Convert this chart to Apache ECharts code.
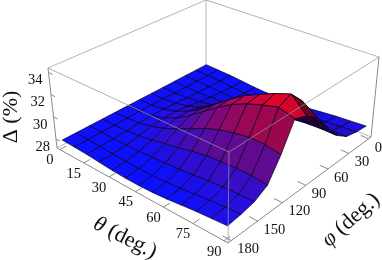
<!DOCTYPE html>
<html><head><meta charset="utf-8">
<style>html,body{margin:0;padding:0;background:#fff}#c{width:382px;height:260px}</style>
<script src="https://cdn.jsdelivr.net/npm/echarts@6/dist/echarts.min.js"></script>
</head><body><div id="c"></div>
<script>
const thetaGrid=[0,7.5,15,22.5,30,37.5,45,52.5,60,67.5,75,82.5,90];
const phiGrid=[0,15,30,45,60,75,90,105,120,135,150,165,180];
const delta=[
[27.9,27.9,27.9,27.9,27.9,27.9,27.9,27.9,27.9,27.9,27.9,27.9,27.9],
[27.85,27.85,27.85,27.86,27.88,27.9,27.92,27.92,27.9,27.88,27.86,27.85,27.85],
[27.8,27.8,27.82,27.86,27.92,28.0,28.05,28.05,28.0,27.92,27.85,27.81,27.8],
[27.7,27.72,27.78,27.9,28.06,28.25,28.38,28.38,28.25,28.05,27.86,27.74,27.7],
[27.6,27.63,27.74,27.98,28.32,28.68,28.92,28.92,28.62,28.22,27.88,27.68,27.6],
[27.55,27.6,27.76,28.12,28.7,29.3,29.7,29.68,29.14,28.48,27.95,27.65,27.55],
[27.55,27.62,27.82,28.35,29.2,30.1,30.65,30.6,29.72,28.72,28.05,27.68,27.55],
[27.6,27.68,27.94,28.6,29.7,30.9,31.6,31.5,30.3,28.98,28.12,27.75,27.6],
[27.7,27.8,28.1,28.85,30.15,31.6,32.45,32.3,30.75,29.2,28.25,27.85,27.7],
[27.85,27.96,28.28,29.1,30.55,32.2,33.1,32.9,31.05,29.3,28.4,28.0,27.85],
[28,28.12,28.42,29.25,30.85,32.7,33.7,33.35,31.25,29.35,28.5,28.15,28],
[28.1,28.22,28.5,29.3,31.0,33.0,34.2,33.7,31.25,29.35,28.55,28.25,28.1],
[28.2,28.31,28.55,29.28,30.6,32.1,32.9,33.3,31.0,29.2,28.6,28.35,28.2]
];
const thetaTicks=[0,15,30,45,60,75,90];
const phiTicks=[0,30,60,90,120,150,180];
const deltaTicks=[28,30,32,34];

// Box of the 3D view: back, right, front, left corners
const floorQuad=[[206,69],[371,137],[228,243],[57,148]];
const topQuad=[[206,0],[379,57],[229,152],[48,68]];
const thetaRange=[-1.8,91.8], phiRange=[-3.6,183.6], zRange=[27.2,34.4];

function homography(q){
  const [[x0,y0],[x1,y1],[x2,y2],[x3,y3]]=q;
  const dx1=x1-x2,dx2=x3-x2,sx=x0-x1+x2-x3,dy1=y1-y2,dy2=y3-y2,sy=y0-y1+y2-y3;
  const den=dx1*dy2-dx2*dy1;
  const g=(sx*dy2-dx2*sy)/den,h=(dx1*sy-sx*dy1)/den;
  const a=x1-x0+g*x1,b=x3-x0+h*x3,d=y1-y0+g*y1,e=y3-y0+h*y3;
  return (u,v)=>{const w=g*u+h*v+1;return [(a*u+b*v+x0)/w,(d*u+e*v+y0)/w];};
}
const floorH=homography(floorQuad),topH=homography(topQuad);
function proj(t,p,z){
  const u=(t-thetaRange[0])/(thetaRange[1]-thetaRange[0]);
  const v=(p-phiRange[0])/(phiRange[1]-phiRange[0]);
  const w=(z-zRange[0])/(zRange[1]-zRange[0]);
  const f=floorH(u,v),o=topH(u,v);
  return [f[0]+(o[0]-f[0])*w,f[1]+(o[1]-f[1])*w];
}
const zLo=27.8,zHi=33.9;
function cellColor(i,j){
  const a=delta[i][j],b=delta[i][j+1],c=delta[i+1][j+1],d=delta[i+1][j];
  const z=(a+b+c+d)/4;
  const t=Math.pow(Math.max(0,Math.min(1,(z-zLo)/(zHi-zLo))),0.92);
  const dphi=((b-a)+(c-d))/2, dth=((d-a)+(c-b))/2;
  let s=1-Math.max(0,dphi)*0.42+Math.min(0,dphi)*0.05+Math.min(0,dth)*0.05;
  s=Math.max(0.32,Math.min(1,s));
  const r=Math.round((12+218*t)*s),g=Math.round((10*(1-t)+6)*s),bl=Math.round((255-220*t)*s);
  return `rgb(${r},${g},${bl})`;
}
const cells=[];
for(let i=0;i<thetaGrid.length-1;i++)for(let j=0;j<phiGrid.length-1;j++)cells.push([i,j]);

const c=(api,p)=>api.coord(p);
const boxBack=[[topQuad[3],topQuad[0]],[topQuad[0],topQuad[1]],[topQuad[0],floorQuad[0]],[floorQuad[3],floorQuad[0]],[floorQuad[0],floorQuad[1]]];
const boxFront=[[topQuad[3],topQuad[2]],[topQuad[2],topQuad[1]],[topQuad[2],floorQuad[2]]];
const axisEdges=[[floorQuad[3],floorQuad[2]],[floorQuad[2],floorQuad[1]],[floorQuad[3],topQuad[3]],[floorQuad[1],topQuad[1]]];
const seg=(api,a,b,col,w)=>{const p=c(api,a),q=c(api,b);return{type:'line',shape:{x1:p[0],y1:p[1],x2:q[0],y2:q[1]},style:{stroke:col,lineWidth:w,fill:null},silent:true};};
const font='"Liberation Serif",serif';
const txt=(api,pos,text,align)=>{const p=c(api,pos);return{type:'text',x:p[0],y:p[1],style:{text:String(text),fill:'#111',font:'14.5px '+font,textAlign:align,textVerticalAlign:'middle'},silent:true};};

const decor=[];
thetaTicks.forEach(v=>decor.push({k:'t',v}));
phiTicks.forEach(v=>decor.push({k:'p',v}));
deltaTicks.forEach(v=>decor.push({k:'z',v}));

const titleStyle=(text)=>({text,fill:'#111',fontFamily:'Liberation Serif',fontSize:22,align:'center',verticalAlign:'middle',
  rich:{i:{fontFamily:'Liberation Serif',fontSize:22,fontStyle:'italic',fill:'#111'},n:{fontFamily:'Liberation Serif',fontSize:22,fill:'#111'}}});

const option={
  animation:false,
  grid:{left:0,right:0,top:0,bottom:0},
  xAxis:{type:'value',min:0,max:382,show:false},
  yAxis:{type:'value',min:0,max:260,inverse:true,show:false},
  series:[
   {type:'custom',coordinateSystem:'cartesian2d',silent:true,z:1,data:boxBack.map((_,i)=>[i]),
    renderItem:(p,api)=>{const e=boxBack[api.value(0)];return seg(api,e[0],e[1],'#b4b4b4',1);}},
   {type:'custom',coordinateSystem:'cartesian2d',silent:true,z:2,data:cells,
    renderItem:(p,api)=>{
      const i=api.value(0),j=api.value(1);
      const pts=[[i,j],[i,j+1],[i+1,j+1],[i+1,j]].map(([a,b])=>c(api,proj(thetaGrid[a],phiGrid[b],delta[a][b])));
      return{type:'polygon',shape:{points:pts},style:{fill:cellColor(i,j),stroke:'rgba(5,0,25,0.85)',lineWidth:0.8,lineJoin:'round'},silent:true};
    }},
   {type:'custom',coordinateSystem:'cartesian2d',silent:true,z:3,data:boxFront.map((_,i)=>[i]),
    renderItem:(p,api)=>{const e=boxFront[api.value(0)];return seg(api,e[0],e[1],'rgba(150,150,150,0.75)',1);}},
   {type:'custom',coordinateSystem:'cartesian2d',silent:true,z:4,data:axisEdges.map((_,i)=>[i]),
    renderItem:(p,api)=>{const e=axisEdges[api.value(0)];return seg(api,e[0],e[1],'#888',1);}},
   {type:'custom',coordinateSystem:'cartesian2d',silent:true,z:5,data:decor.map((_,i)=>[i]),
    renderItem:(p,api)=>{
      const d=decor[api.value(0)];let a,b,label;
      if(d.k==='t'){a=proj(d.v,phiRange[1],zRange[0]);b=proj(d.v,phiRange[1]-7,zRange[0]);label=txt(api,[a[0]-10,a[1]+11],d.v,'center');}
      else if(d.k==='p'){a=proj(thetaRange[1],d.v,zRange[0]);b=proj(thetaRange[1]-4,d.v,zRange[0]);label=txt(api,[a[0]+6,a[1]+9],d.v,'left');}
      else{const w=(d.v-zRange[0])/(zRange[1]-zRange[0]);const f=floorQuad[3],o=topQuad[3];
        a=[f[0]+(o[0]-f[0])*w,f[1]+(o[1]-f[1])*w];b=[a[0]+4,a[1]+2];label=txt(api,[a[0]-6,a[1]+8],d.v,'right');}
      return{type:'group',children:[seg(api,a,b,'#888',1),label]};
    }}
  ],
  graphic:[
   {type:'text',x:125,y:238,rotation:-0.47,silent:true,style:titleStyle('{i|θ}{n| (deg.)}')},
   {type:'text',x:351,y:220,rotation:0.73,silent:true,style:titleStyle('{i|φ}{n| (deg.)}')},
   {type:'text',x:11,y:117,rotation:Math.PI/2,silent:true,style:titleStyle('Δ (%)')}
  ]
};
const chart=echarts.init(document.getElementById('c'),null,{renderer:'canvas'});
chart.setOption(option);
</script></body></html>
